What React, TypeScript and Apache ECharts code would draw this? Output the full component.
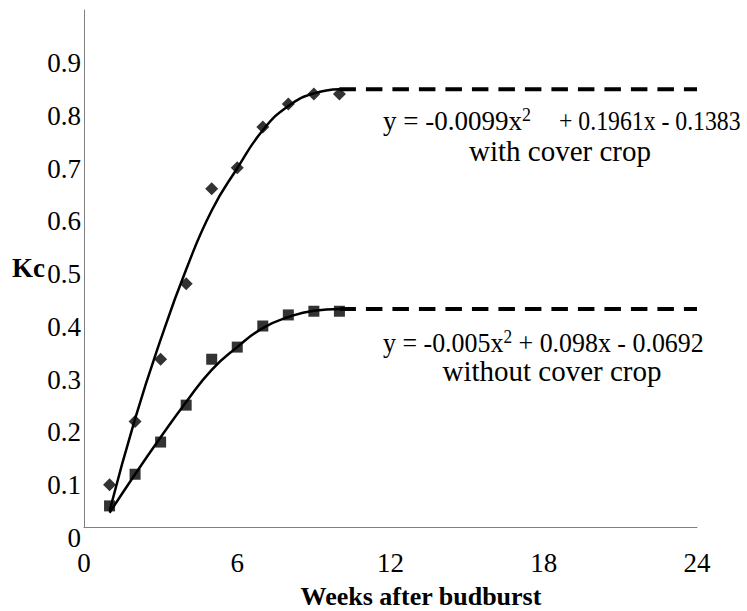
import React, { useEffect, useRef } from "react";
import * as echarts from "echarts";

// Observed data (weeks after budburst, Kc)
const weeks = [1, 2, 3, 4, 5, 6, 7, 8, 9, 10];
const kcWithCover = [0.08, 0.2, 0.318, 0.461, 0.641, 0.681, 0.758, 0.802, 0.821, 0.821];
const kcWithoutCover = [0.04, 0.1, 0.161, 0.231, 0.318, 0.341, 0.381, 0.402, 0.409, 0.409];

// Fitted trend curves
const trendWithCover = [0.03, 0.205, 0.355, 0.488, 0.6, 0.68, 0.752, 0.798, 0.822, 0.83];
const trendWithoutCover = [0.027, 0.1, 0.17, 0.237, 0.298, 0.341, 0.377, 0.398, 0.41, 0.413];

// Plateau (dashed) extensions
const plateauX = [10, 24];
const plateauWithCover = [0.83, 0.83];
const plateauWithoutCover = [0.413, 0.413];

// Axis ticks
const xTicks = [0, 6, 12, 18, 24];
const yTickLabels = ["0", "0.1", "0.2", "0.3", "0.4", "0.5", "0.6", "0.7", "0.8", "0.9"];

const eqWithA = "y = -0.0099x";
const eqWithB = "+ 0.1961x - 0.1383";
const eqWithoutA = "y = -0.005x";
const eqWithoutB = " + 0.098x - 0.0692";
const labelWith = "with cover crop";
const labelWithout = "without cover crop";

const FONT = "Liberation Serif";

export default function App() {
  const ref = useRef<HTMLDivElement>(null);
  useEffect(() => {
    if (!ref.current) return;
    const chart = echarts.init(ref.current, null, { renderer: "svg" });
    const pair = (xs: number[], ys: number[]) => xs.map((x, i) => [x, ys[i]]);
    const rich = {
      n: { fontSize: 27, fontFamily: FONT, color: "#000" },
      sup: { fontSize: 18, fontFamily: FONT, color: "#000", padding: [0, 0, 12, 0] },
    };
    chart.setOption({
      animation: false,
      backgroundColor: "#fff",
      grid: { left: 84, right: 50, top: 10, bottom: 84, containLabel: false },
      xAxis: {
        type: "value",
        min: 0,
        max: 24,
        interval: 6,
        axisLine: { show: true, lineStyle: { color: "#808080", width: 1 } },
        axisTick: { show: false },
        splitLine: { show: false },
        axisLabel: {
          fontSize: 27,
          fontFamily: FONT,
          color: "#000",
          margin: 22,
          formatter: (v: number) => (xTicks.includes(v) ? String(v) : ""),
        },
      },
      yAxis: {
        type: "value",
        min: 0,
        max: 0.98,
        interval: 0.1,
        axisLine: { show: true, lineStyle: { color: "#808080", width: 1 } },
        axisTick: { show: false },
        splitLine: { show: false },
        axisLabel: {
          fontSize: 27,
          fontFamily: FONT,
          color: "#000",
          margin: 3,
          verticalAlign: "top",
          lineHeight: 22,
          showMaxLabel: false,
          formatter: (v: number) => {
            const idx = Math.round(v * 10);
            return Math.abs(v * 10 - idx) < 1e-6 && idx < yTickLabels.length ? yTickLabels[idx] : "";
          },
        },
      },
      graphic: [
        {
          type: "text",
          x: 12,
          y: 268,
          style: { text: "Kc", fontSize: 27, fontWeight: "bold", fontFamily: FONT, fill: "#000", verticalAlign: "middle" },
        },
        {
          type: "text",
          x: 421,
          y: 596,
          style: {
            text: "Weeks after budburst",
            fontSize: 26,
            fontWeight: "bold",
            fontFamily: FONT,
            fill: "#000",
            align: "center",
            verticalAlign: "middle",
          },
        },
        {
          type: "text",
          x: 383,
          y: 121,
          style: {
            text: `{n|${eqWithA}}{sup|2}`,
            fontSize: 27,
            fontFamily: FONT,
            fill: "#000",
            align: "left",
            verticalAlign: "middle",
            rich,
          },
        },
        {
          type: "text",
          x: 559,
          y: 121,
          scaleX: 0.88,
          style: {
            text: eqWithB,
            fontSize: 27,
            fontFamily: FONT,
            fill: "#000",
            align: "left",
            verticalAlign: "middle",
          },
        },
        {
          type: "text",
          x: 560,
          y: 151,
          style: { text: labelWith, fontSize: 29, fontFamily: FONT, fill: "#000", align: "center", verticalAlign: "middle" },
        },
        {
          type: "text",
          x: 383,
          y: 343,
          scaleX: 0.96,
          style: {
            text: `{n|${eqWithoutA}}{sup|2}{n|${eqWithoutB}}`,
            fontSize: 27,
            fontFamily: FONT,
            fill: "#000",
            align: "left",
            verticalAlign: "middle",
            rich,
          },
        },
        {
          type: "text",
          x: 552,
          y: 371,
          style: { text: labelWithout, fontSize: 29, fontFamily: FONT, fill: "#000", align: "center", verticalAlign: "middle" },
        },
      ],
      series: [
        {
          type: "line",
          data: pair(weeks, trendWithCover),
          smooth: true,
          showSymbol: false,
          lineStyle: { color: "#000", width: 2.5 },
          z: 2,
        },
        {
          type: "line",
          data: pair(weeks, trendWithoutCover),
          smooth: true,
          showSymbol: false,
          lineStyle: { color: "#000", width: 2.5 },
          z: 2,
        },
        {
          type: "line",
          data: pair(plateauX, plateauWithCover),
          showSymbol: false,
          lineStyle: { color: "#000", width: 4, type: [16.5, 10] },
          z: 2,
        },
        {
          type: "line",
          data: pair(plateauX, plateauWithoutCover),
          showSymbol: false,
          lineStyle: { color: "#000", width: 4, type: [16.5, 10] },
          z: 2,
        },
        {
          type: "scatter",
          data: pair(weeks, kcWithCover),
          symbol: "diamond",
          symbolSize: 13,
          itemStyle: { color: "#000" },
          z: 3,
        },
        {
          type: "scatter",
          data: pair(weeks, kcWithoutCover),
          symbol: "rect",
          symbolSize: 11,
          itemStyle: { color: "#000" },
          z: 3,
        },
      ],
    });
    return () => chart.dispose();
  }, []);
  return <div ref={ref} style={{ width: 747, height: 611, position: "absolute", left: 0, top: 0 }} />;
}
